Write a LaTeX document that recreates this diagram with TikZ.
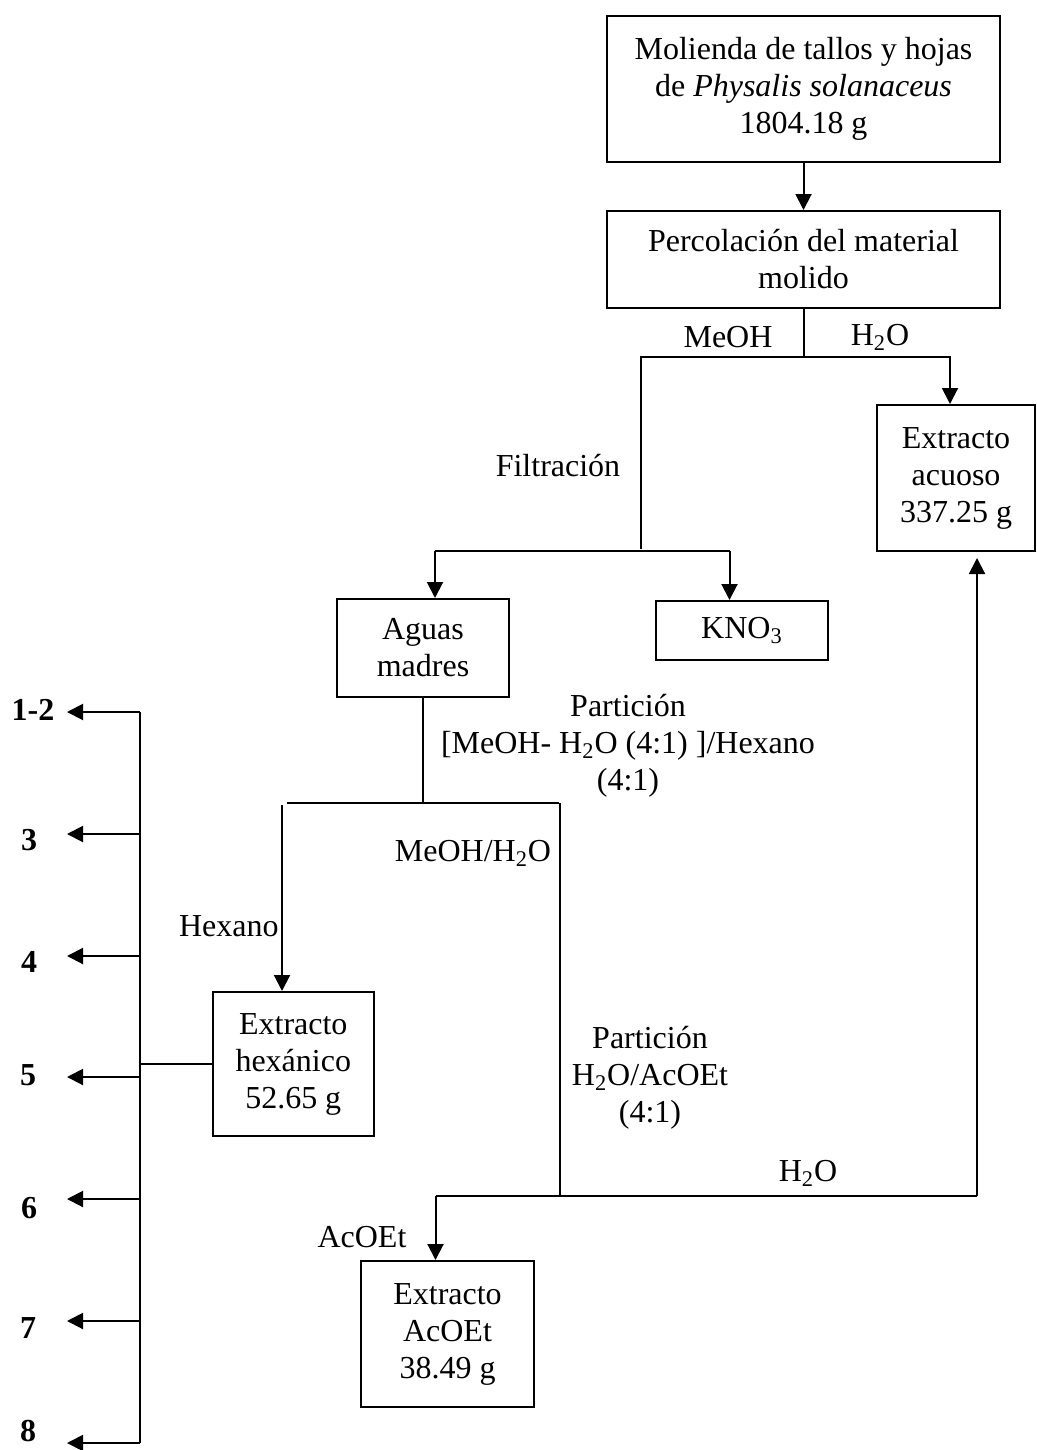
\documentclass[tikz,border=0pt]{standalone}
\usepackage{fontspec}
\setmainfont{Liberation Serif}
\usetikzlibrary{arrows.meta,calc}
\tikzset{
  txt/.style={font=\fontsize{16}{18.5}\selectfont},
  box/.style={draw, line width=1pt, inner sep=0pt, align=center, txt},
  lbl/.style={inner sep=0pt, align=center, txt},
  num/.style={inner sep=0pt, font=\fontsize{16}{18.5}\selectfont\bfseries},
  ln/.style={line width=1pt},
  arr/.style={line width=1pt, -{Triangle[length=8pt,width=8pt]}},
}
\begin{document}
\begin{tikzpicture}[x=0.5pt,y=-0.5pt]
\useasboundingbox (0,0) rectangle (1037,1450);
% boxes
\node[box, minimum width=196.5pt, minimum height=73pt] (top) at (803.5,89) {Molienda de tallos y hojas\\de \textit{Physalis solanaceus}\\1804.18 g};
\node[box, minimum width=196.5pt, minimum height=48.5pt] (perc) at (803.5,259.5) {Percolación del material\\molido};
\node[box, minimum width=79pt, minimum height=73pt] (acuoso) at (956,478) {Extracto\\acuoso\\337.25 g};
\node[box, minimum width=86pt, minimum height=49pt] (aguas) at (423,648) {Aguas\\madres};
\node[box, minimum width=86pt, minimum height=29.5pt] (kno) at (742,630.5) {KNO\textsubscript{3}};
\node[box, minimum width=80.25pt, minimum height=72pt] (hex) at (293.25,1064) {Extracto\\hexánico\\52.65 g};
\node[box, minimum width=86.5pt, minimum height=73pt] (acoet) at (447.5,1334) {Extracto\\AcOEt\\38.49 g};
% labels
\node[lbl] (lmeoh) at (728,337) {MeOH};
\node[lbl] (lh2o) at (880,337) {H\textsubscript{2}O};
\node[lbl] (lfil) at (558,466) {Filtración};
\node[lbl] (lpart1) at (628,746) {Partición\\{[}MeOH- H\textsubscript{2}O (4:1) ]/Hexano\\(4:1)};
\node[lbl] (lmw) at (473,853) {MeOH/H\textsubscript{2}O};
\node[lbl, anchor=east] (lhex) at (279,926) {Hexano};
\node[lbl] (lpart2) at (650,1078) {Partición\\H\textsubscript{2}O/AcOEt\\(4:1)};
\node[lbl] (lh2o2) at (808,1173) {H\textsubscript{2}O};
\node[lbl] (lacoet) at (362,1237) {AcOEt};
% connectors top part
\draw[arr] (top) -- (perc);
\coordinate (j1) at (803.5,357);
\coordinate (jL) at (641,357);
\coordinate (jLb) at (641,549);
\coordinate (jR) at (950,357);
\draw[ln] (perc.south) -- (j1);
\draw[ln] (j1) -- (jL) -- (jLb);
\draw[arr] (j1) -- (jR) -- (jR |- acuoso.north);
% filtration
\coordinate (f1) at (435,551);
\coordinate (f2) at (729.5,551);
\draw[ln] (f1) -- (f2);
\draw[arr] (f1) -- (f1 |- aguas.north);
\draw[arr] (f2) -- (f2 |- kno.north);
% partition 1
\coordinate (p1) at (423,803);
\coordinate (pL) at (287,803);
\coordinate (pR) at (559,803);
\draw[ln] (aguas.south) -- (p1);
\draw[ln] (pL) -- (pR);
\coordinate (hx) at (282,805);
\draw[arr] (hx) -- (hx |- hex.north);
\coordinate (mw) at (560,803);
\coordinate (mw2) at (560,1196);
\draw[ln] (mw) -- (mw2);
% partition 2
\coordinate (a1) at (435.5,1196);
\coordinate (a2) at (977,1196);
\draw[ln] (a1) -- (a2);
\draw[arr] (a1) -- (a1 |- acoet.north);
\draw[arr] (a2) -- ([yshift=-3pt]a2 |- acuoso.south);
% fractions
\coordinate (b5) at (140,1064);
\coordinate (btop) at (140,712);
\coordinate (bbot) at (140,1443);
\draw[ln] (hex.west) -- (b5);
\draw[ln] (btop) -- (bbot);
\foreach \i/\ay/\lx/\ly/\t in {1/712/33/710/1-2, 2/834/29/840/3, 3/956/29/962/4, 4/1077/28/1075/5, 5/1199/29/1208/6, 6/1321/28/1328/7, 7/1443/28/1431/8}{
  \coordinate (s\i) at (140,\ay);
  \coordinate (e\i) at (67,\ay);
  \node[num] (n\i) at (\lx,\ly) {\t};
  \draw[arr] (s\i) -- (e\i);
}
\end{tikzpicture}
\end{document}
